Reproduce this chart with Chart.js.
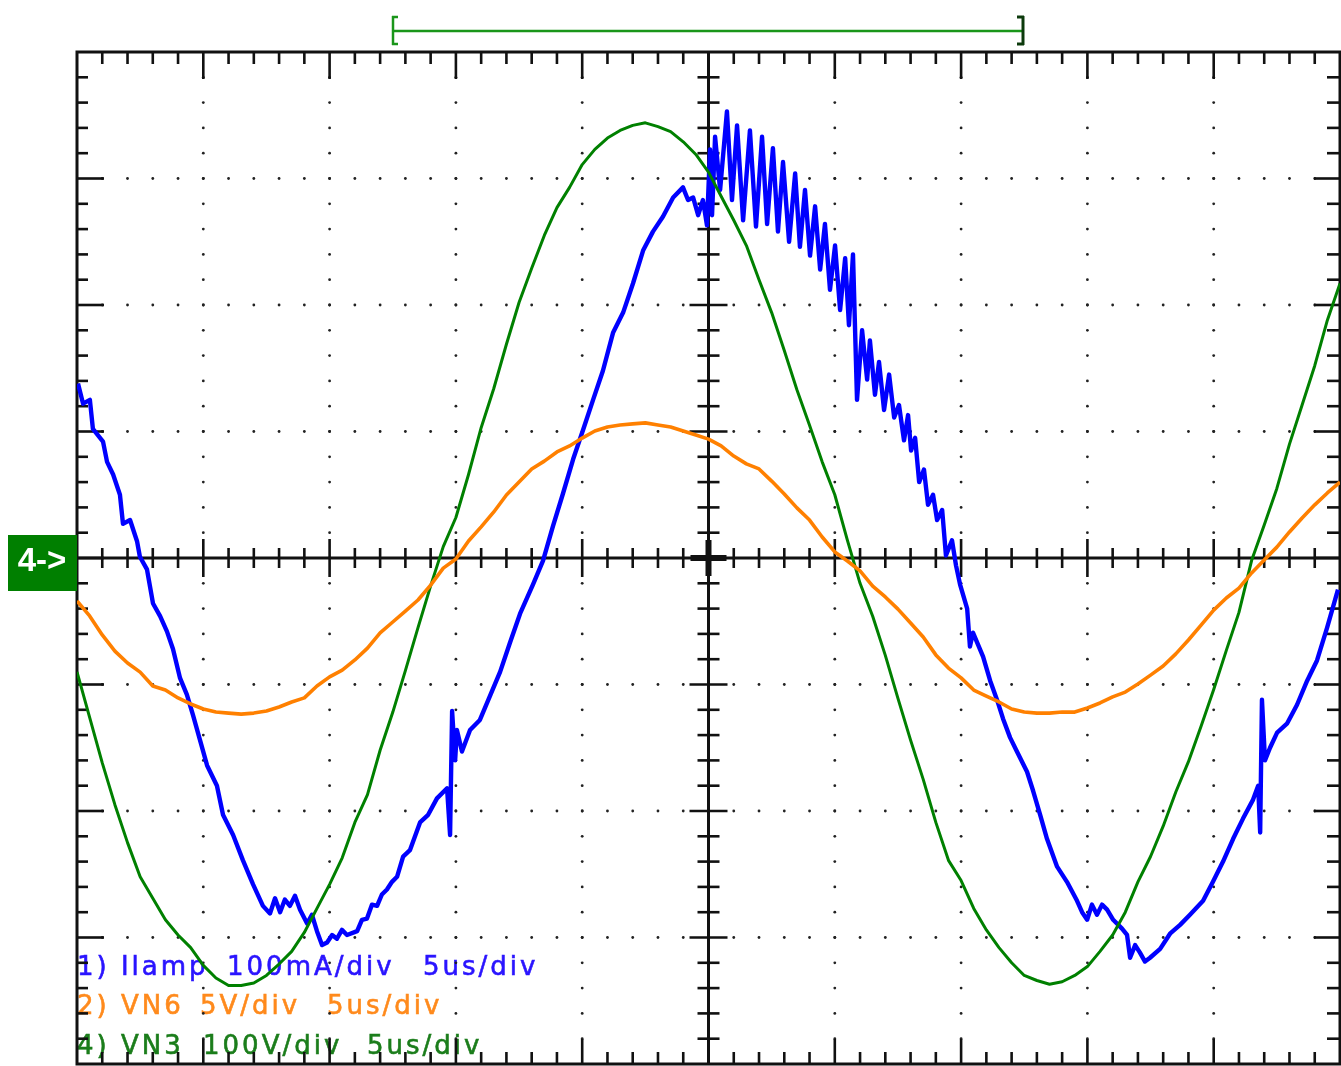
<!DOCTYPE html>
<html>
<head>
<meta charset="utf-8">
<title>Ilamp / VN6 / VN3</title>
<script src="https://cdn.jsdelivr.net/npm/chart.js@4.4.1/dist/chart.umd.min.js"></script>
<style>
  html, body { margin: 0; padding: 0; background: #fff; }
  #wrap { width: 1341px; height: 1066px; }
</style>
</head>
<body>
<div id="wrap"><canvas id="scopeChart" width="1341" height="1066"></canvas></div>
<script>
// sample times (us) for VN6 and VN3
const sampleTimes = [
  0, 0.5, 1, 1.5, 2, 2.5, 3, 3.5, 4, 4.5,
  5, 5.5, 6, 6.5, 7, 7.5, 8, 8.5, 9, 9.5,
  10, 10.5, 11, 11.5, 12, 12.5, 13, 13.5, 14, 14.5,
  15, 15.5, 16, 16.5, 17, 17.5, 18, 18.5, 19, 19.5,
  20, 20.5, 21, 21.5, 22, 22.5, 23, 23.5, 24, 24.5,
  25, 25.5, 26, 26.5, 27, 27.5, 28, 28.5, 29, 29.5,
  30, 30.5, 31, 31.5, 32, 32.5, 33, 33.5, 34, 34.5,
  35, 35.5, 36, 36.5, 37, 37.5, 38, 38.5, 39, 39.5,
  40, 40.5, 41, 41.5, 42, 42.5, 43, 43.5, 44, 44.5,
  45, 45.5, 46, 46.5, 47, 47.5, 48, 48.5, 49, 49.5,
  50
];

// channel 4: VN3 (V)
const vn3Volts = [
  -90, -126, -162, -195, -225, -252, -269, -286, -298, -308,
  -322, -332, -338, -338, -336, -330, -321, -311, -296, -277,
  -258, -237, -209, -187, -152, -122, -89, -55, -22, 9,
  32, 66, 103, 134, 169, 202, 229, 255, 277, 293,
  311, 323, 332, 338, 342, 344, 341, 337, 329, 319,
  305, 286, 267, 247, 220, 194, 164, 133, 105, 76,
  50, 14, -20, -46, -77, -111, -144, -175, -209, -239,
  -255, -277, -294, -308, -320, -330, -334, -337, -335, -330,
  -323, -311, -298, -280, -256, -236, -212, -185, -161, -133,
  -104, -73, -43, -2, 26, 55, 90, 121, 152, 188,
  217
];

// channel 2: VN6 (V)
const vn6Volts = [
  -1.70, -2.29, -3.04, -3.68, -4.15, -4.51, -5.06, -5.22, -5.53, -5.77,
  -5.97, -6.09, -6.13, -6.17, -6.13, -6.05, -5.89, -5.69, -5.53, -5.06,
  -4.70, -4.43, -4.03, -3.56, -2.96, -2.53, -2.10, -1.66, -1.07, -0.40,
  -0.04, 0.67, 1.23, 1.82, 2.49, 3.00, 3.52, 3.83, 4.19, 4.43,
  4.74, 5.02, 5.18, 5.26, 5.30, 5.34, 5.26, 5.18, 5.02, 4.86,
  4.70, 4.43, 4.03, 3.72, 3.52, 3.04, 2.53, 1.98, 1.50, 0.83,
  0.24, -0.12, -0.51, -1.11, -1.54, -2.02, -2.57, -3.12, -3.83, -4.35,
  -4.74, -5.22, -5.46, -5.69, -5.97, -6.09, -6.13, -6.13, -6.09, -6.09,
  -5.93, -5.73, -5.49, -5.30, -4.98, -4.63, -4.27, -3.79, -3.24, -2.65,
  -2.06, -1.58, -1.19, -0.59, -0.08, 0.43, 1.03, 1.58, 2.10, 2.57,
  3.00
];

// channel 1: Ilamp, own time base (us) and values (mA)
const ilampTime = [
  0.04, 0.24, 0.51, 0.63, 1.03, 1.19, 1.43, 1.70, 1.82, 2.10,
  2.38, 2.49, 2.77, 3.01, 3.29, 3.56, 3.80, 4.08, 4.35, 4.59,
  4.87, 5.15, 5.54, 5.78, 6.18, 6.57, 6.97, 7.36, 7.64, 7.84,
  8.04, 8.23, 8.43, 8.63, 8.83, 9.11, 9.30, 9.50, 9.70, 9.90,
  10.10, 10.29, 10.49, 10.69, 11.09, 11.28, 11.48, 11.68, 11.88, 12.07,
  12.27, 12.47, 12.67, 12.91, 13.18, 13.58, 13.90, 14.25, 14.65, 14.77,
  14.85, 14.97, 15.04, 15.24, 15.56, 15.95, 16.35, 16.75, 17.14, 17.54,
  18.05, 18.45, 18.84, 19.24, 19.64, 20.03, 20.43, 20.82, 21.22, 21.62,
  22.01, 22.41, 22.80, 23.20, 23.60, 23.99, 24.19, 24.39, 24.59, 24.78,
  24.94, 25.06, 25.14, 25.26, 25.46, 25.73, 25.93, 26.13, 26.37, 26.64,
  26.88, 27.12, 27.32, 27.55, 27.75, 27.95, 28.19, 28.43, 28.62, 28.82,
  29.02, 29.22, 29.42, 29.61, 29.81, 30.01, 30.21, 30.41, 30.56, 30.72,
  30.88, 31.08, 31.28, 31.39, 31.59, 31.75, 31.95, 32.15, 32.35, 32.54,
  32.74, 32.90, 33.02, 33.18, 33.34, 33.53, 33.69, 33.89, 34.05, 34.25,
  34.40, 34.64, 34.80, 34.96, 35.24, 35.35, 35.47, 35.87, 36.15, 36.42,
  36.66, 36.94, 37.21, 37.61, 37.85, 38.13, 38.40, 38.80, 39.19, 39.59,
  39.79, 39.99, 40.18, 40.38, 40.58, 40.78, 41.02, 41.37, 41.57, 41.69,
  41.89, 42.08, 42.28, 42.48, 42.88, 43.27, 43.67, 44.06, 44.58, 44.97,
  45.37, 45.77, 46.16, 46.56, 46.76, 46.84, 46.91, 47.03, 47.23, 47.51,
  47.90, 48.30, 48.70, 49.09, 49.49, 49.92
];
const ilampMa = [
  138, 122, 125, 102, 92, 76, 66, 50, 27, 30,
  13, 1, -9, -36, -46, -58, -72, -95, -108, -124,
  -144, -164, -180, -203, -219, -239, -258, -275, -281, -269,
  -280, -270, -275, -267, -278, -289, -282, -295, -306, -304,
  -298, -301, -294, -298, -295, -286, -285, -274, -275, -266,
  -262, -256, -252, -236, -231, -209, -203, -190, -182, -219,
  -121, -160, -136, -153, -136, -128, -109, -90, -67, -44,
  -21, -2, 25, 51, 78, 101, 125, 148, 178, 194,
  217, 243, 258, 270, 285, 293, 283, 285, 271, 283,
  263, 323, 271, 333, 291, 353, 283, 342, 267, 338,
  262, 333, 264, 324, 258, 313, 250, 304, 246, 291,
  239, 278, 228, 264, 212, 247, 196, 237, 184, 240,
  125, 180, 141, 172, 129, 155, 117, 145, 111, 121,
  93, 113, 85, 95, 60, 70, 42, 50, 30, 38,
  2, 14, -6, -21, -40, -70, -59, -78, -97, -112,
  -127, -142, -153, -169, -184, -203, -222, -244, -256, -271,
  -280, -286, -274, -282, -274, -278, -286, -293, -298, -316,
  -306, -312, -319, -316, -309, -297, -290, -282, -271, -256,
  -240, -222, -206, -191, -180, -217, -112, -160, -150, -138,
  -131, -116, -97, -81, -55, -25
];

// channel legend lines at the bottom left: [text, x] pieces
const legendLines = [
  { color: '#2a14ff', y: 968, parts: [['1) Ilamp', 77], ['100mA/div', 227], ['5us/div', 423]] },
  { color: '#ff8a1c', y: 1007, parts: [['2) VN6', 77], ['5V/div', 200], ['5us/div', 327]] },
  { color: '#1b7d1b', y: 1047, parts: [['4) VN3', 77], ['100V/div', 203], ['5us/div', 367]] }
];

const toPoints = (xs, ys) => xs.map((t, i) => ({ x: t, y: ys[i] }));

// scope graticule, drawn under the traces
const graticule = {
  id: 'graticule',
  beforeDatasetsDraw(chart) {
    const { ctx, chartArea: a } = chart;
    const xs = chart.scales.x, ys = chart.scales.yV3;
    const xAt = d => xs.getPixelForValue(d * 5);     // d in divisions, 5us/div
    const yAt = d => ys.getPixelForValue(d * 100);   // 100V/div on ch4
    const cx = xAt(5), cy = yAt(0);
    ctx.save();

    // legend text sits under the traces
    ctx.font = '26px "DejaVu Sans", Verdana, sans-serif';
    ctx.textBaseline = 'middle';
    ctx.letterSpacing = '3px';
    ctx.lineWidth = 0.6;
    legendLines.forEach(line => {
      ctx.fillStyle = line.color;
      ctx.strokeStyle = line.color;
      line.parts.forEach(([txt, x]) => {
        ctx.fillText(txt, x, line.y);
        ctx.strokeText(txt, x, line.y);
      });
    });
    ctx.letterSpacing = '0px';

    // dotted division lines
    ctx.fillStyle = '#222';
    for (let i = 1; i < 10; i++) {
      if (i === 5) continue;
      for (let m = -19; m < 20; m++) {
        ctx.beginPath();
        ctx.arc(xAt(i), yAt(m / 5), 1.4, 0, Math.PI * 2);
        ctx.fill();
      }
    }
    for (let j = -3; j < 4; j++) {
      if (j === 0) continue;
      for (let m = 1; m < 50; m++) {
        ctx.beginPath();
        ctx.arc(xAt(m / 5), yAt(j), 1.4, 0, Math.PI * 2);
        ctx.fill();
      }
    }

    ctx.strokeStyle = '#111';
    ctx.lineWidth = 3;
    const seg = (x1, y1, x2, y2) => {
      ctx.beginPath(); ctx.moveTo(x1, y1); ctx.lineTo(x2, y2); ctx.stroke();
    };

    // border and centre axes
    ctx.strokeRect(a.left, a.top, a.right - a.left, a.bottom - a.top);
    seg(a.left, cy, a.right, cy);
    seg(cx, a.top, cx, a.bottom);

    // minor / major ticks
    ctx.lineWidth = 2.6;
    for (let m = 1; m < 50; m++) {
      const x = xAt(m / 5);
      const major = m % 5 === 0;
      seg(x, a.top, x, a.top + (major ? 27 : 12));
      seg(x, a.bottom, x, a.bottom - (major ? 25 : 12));
      if (m !== 25) seg(x, cy - (major ? 19 : 10), x, cy + (major ? 19 : 10));
    }
    for (let m = -19; m < 20; m++) {
      const y = yAt(m / 5);
      const major = m % 5 === 0;
      seg(a.left, y, a.left + (major ? 27 : 11), y);
      seg(a.right, y, a.right - (major ? 26 : 13), y);
      if (m !== 0) seg(cx - (major ? 19 : 11), y, cx + (major ? 19 : 11), y);
    }

    // heavier cross at the centre
    ctx.lineWidth = 6;
    seg(cx - 18, cy, cx + 18, cy);
    seg(cx, cy - 18, cx, cy + 18);

    // ground marker for channel 4
    ctx.fillStyle = '#007f00';
    ctx.fillRect(8, cy - 23, a.left - 8, 56);
    ctx.fillStyle = '#ffffff';
    ctx.font = 'bold 33px "Liberation Sans", Arial, sans-serif';
    ctx.textAlign = 'center';
    ctx.fillText('4->', 42, cy + 4);

    // trigger / cursor bracket on top
    ctx.lineWidth = 2.5;
    ctx.strokeStyle = '#1a961a';
    seg(392, 31, 1023, 31);
    seg(393, 16, 393, 45);
    seg(392, 17, 398, 17);
    seg(392, 44, 398, 44);
    ctx.strokeStyle = '#0c3a0c';
    ctx.lineWidth = 3;
    seg(1023, 16, 1023, 45);
    seg(1017, 17, 1024, 17);
    seg(1017, 44, 1024, 44);

    ctx.restore();
  }
};

const scopeCtx = document.getElementById('scopeChart').getContext('2d');
const scopeChart = new Chart(scopeCtx, {
  type: 'line',
  data: {
    datasets: [
      {
        label: '2) VN6',
        data: toPoints(sampleTimes, vn6Volts),
        yAxisID: 'yV6',
        borderColor: '#ff8000',
        borderWidth: 3.6,
        order: 0
      },
      {
        label: '4) VN3',
        data: toPoints(sampleTimes, vn3Volts),
        yAxisID: 'yV3',
        borderColor: '#008000',
        borderWidth: 3,
        order: 1
      },
      {
        label: '1) Ilamp',
        data: toPoints(ilampTime, ilampMa),
        yAxisID: 'yI',
        borderColor: '#0000ff',
        borderWidth: 4.4,
        order: 2
      }
    ]
  },
  options: {
    responsive: false,
    animation: false,
    devicePixelRatio: 1,
    layout: { padding: { left: 77, right: 1, top: 52, bottom: 2 } },
    elements: {
      point: { radius: 0 },
      line: { tension: 0, borderJoinStyle: 'round', fill: false }
    },
    plugins: {
      legend: { display: false },
      tooltip: { enabled: false }
    },
    scales: {
      x: { type: 'linear', min: 0, max: 50, display: false },
      yI: { type: 'linear', min: -400, max: 400, display: false },
      yV6: { type: 'linear', min: -20, max: 20, display: false },
      yV3: { type: 'linear', min: -400, max: 400, display: false }
    }
  },
  plugins: [graticule]
});
</script>
</body>
</html>
